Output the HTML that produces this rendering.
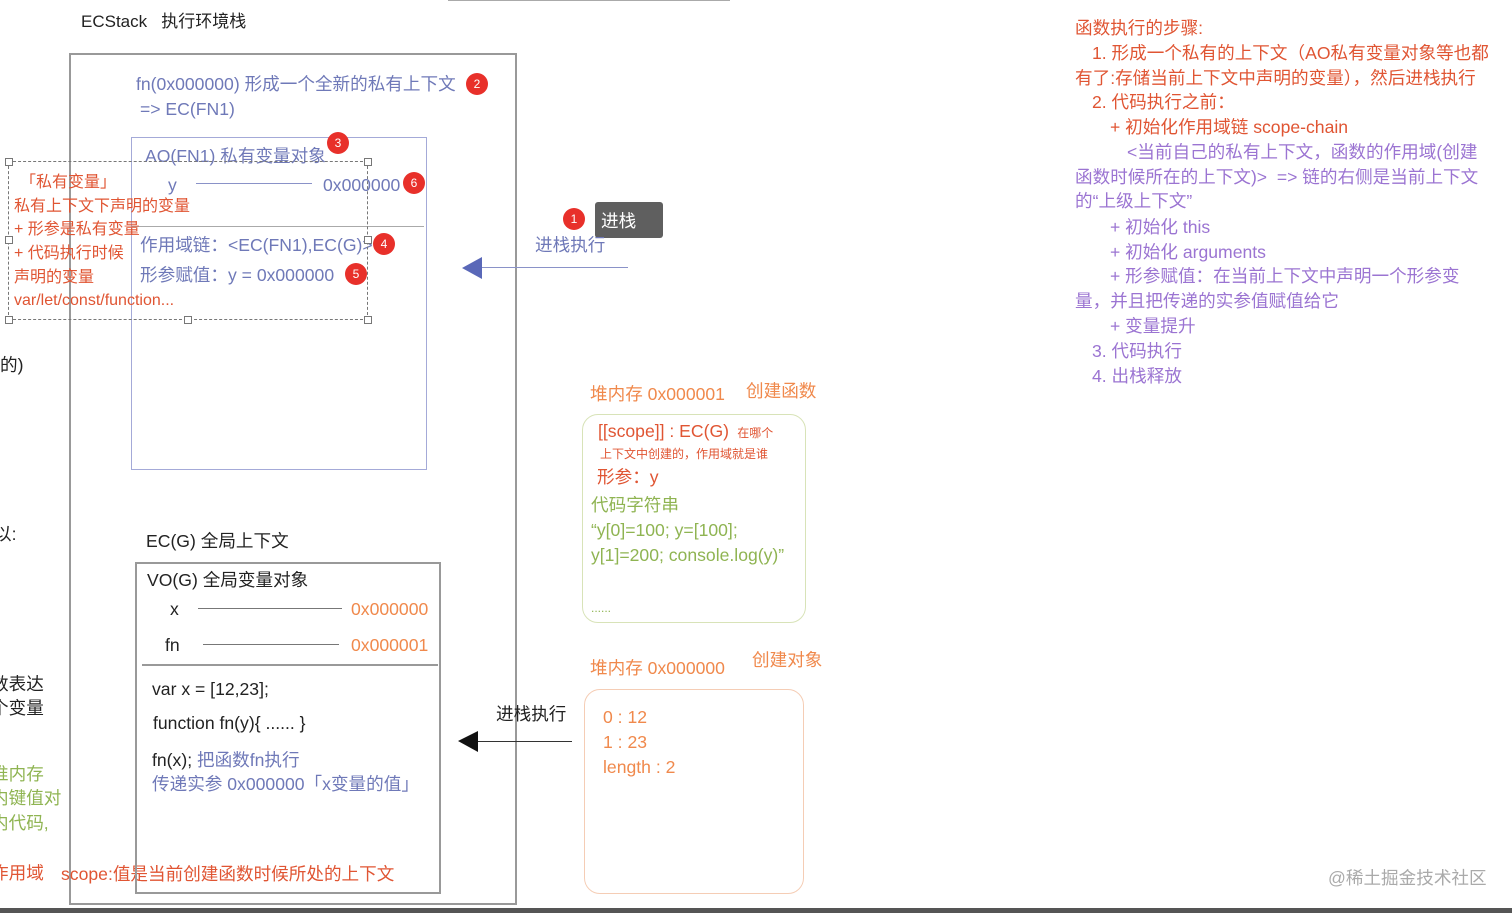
<!DOCTYPE html>
<html><head><meta charset="utf-8"><style>
body{margin:0;width:1512px;height:913px;background:#fff;position:relative;overflow:hidden;font-family:"Liberation Sans","Noto Sans CJK SC",sans-serif;}
.t{position:absolute;white-space:nowrap;font-size:17.6px;line-height:20px;}
.b{position:absolute;box-sizing:border-box;}
.red{color:#e05533}.blue{color:#6f79b8}.gr{color:#8fb452}.or{color:#f0894c}.pu{color:#9b74d2}.k{color:#222}
.dot{position:absolute;width:22px;height:22px;border-radius:50%;background:#e8302a;color:#fff;font-size:12px;line-height:22px;text-align:center;}
.h{position:absolute;height:1px;background:#888;}
.hb{position:absolute;height:1px;background:#8a92c8;}
.sq{position:absolute;width:6px;height:6px;border:1px solid #777;background:#fff;}
</style></head><body>
<div class="h" style="left:448px;top:0;width:282px;background:#aaa"></div>
<div class="t k" style="left:81px;top:12px;font-size:17px">ECStack&nbsp;&nbsp;&nbsp;执行环境栈</div>
<div class="b" style="left:69px;top:53px;width:448px;height:852px;border:2px solid #999"></div>
<div class="t blue" style="left:136px;top:74px">fn(0x000000) 形成一个全新的私有上下文</div>
<div class="dot" style="left:466px;top:73px">2</div>
<div class="t blue" style="left:140px;top:99px">=&gt; EC(FN1)</div>
<div class="b" style="left:131px;top:137px;width:296px;height:333px;border:1px solid #a4aad8"></div>
<div class="t blue" style="left:145px;top:146px">AO(FN1) 私有变量对象</div>
<div class="dot" style="left:327px;top:132px">3</div>
<div class="t blue" style="left:168px;top:175px">y</div>
<div class="hb" style="left:196px;top:183px;width:116px"></div>
<div class="t blue" style="left:323px;top:175px">0x000000</div>
<div class="dot" style="left:403px;top:172px">6</div>
<div class="hb" style="left:132px;top:226px;width:292px;background:#aaa"></div>
<div class="t blue" style="left:140px;top:235px">作用域链：&lt;EC(FN1),EC(G)&gt;</div>
<div class="dot" style="left:373px;top:233px">4</div>
<div class="t blue" style="left:140px;top:265px">形参赋值：y = 0x000000</div>
<div class="dot" style="left:345px;top:263px">5</div>
<div class="b" style="left:8px;top:161px;width:360px;height:159px;border:1.5px dashed #777"></div>
<div class="sq" style="left:5px;top:158px"></div><div class="sq" style="left:364px;top:158px"></div>
<div class="sq" style="left:5px;top:236px"></div><div class="sq" style="left:364px;top:236px"></div>
<div class="sq" style="left:5px;top:316px"></div><div class="sq" style="left:184px;top:316px"></div><div class="sq" style="left:364px;top:316px"></div>
<div class="t red" style="left:20px;top:173px;font-size:16px">「私有变量」</div>
<div class="t red" style="left:14px;top:197px;font-size:16px">私有上下文下声明的变量</div>
<div class="t red" style="left:14px;top:220px;font-size:16px">+ 形参是私有变量</div>
<div class="t red" style="left:14px;top:244px;font-size:16px">+ 代码执行时候</div>
<div class="t red" style="left:14px;top:268px;font-size:16px">声明的变量</div>
<div class="t red" style="left:14px;top:291px;font-size:16px">var/let/const/function...</div>
<div class="t k" style="left:0;top:355px">的)</div>
<div class="t k" style="left:-6px;top:524px">以:</div>
<div class="t k" style="left:-9px;top:674px">数表达</div>
<div class="t k" style="left:-9px;top:698px">个变量</div>
<div class="t gr" style="left:-9px;top:764px">推内存</div>
<div class="t gr" style="left:-9px;top:788px">内键值对</div>
<div class="t gr" style="left:-9px;top:813px">内代码,</div>
<div class="t red" style="left:-9px;top:863px">作用域</div>
<div class="t red" style="left:61px;top:864px">scope:值是当前创建函数时候所处的上下文</div>
<div class="dot" style="left:563px;top:208px">1</div>
<div class="b" style="left:595px;top:202px;width:68px;height:36px;background:#5f5f5f;border-radius:3px"></div>
<div class="t" style="left:601px;top:211px;color:#fff">进栈</div>
<div class="t blue" style="left:535px;top:235px">进栈执行</div>
<div class="hb" style="left:480px;top:267px;width:148px"></div>
<svg style="position:absolute;left:462px;top:256px" width="22" height="24"><polygon points="0,12 20,1 20,23" fill="#5a68b8"/></svg>
<div class="t k" style="left:146px;top:531px">EC(G) 全局上下文</div>
<div class="b" style="left:135px;top:562px;width:306px;height:332px;border:2px solid #999"></div>
<div class="t k" style="left:147px;top:570px">VO(G) 全局变量对象</div>
<div class="t k" style="left:170px;top:599px">x</div>
<div class="h" style="left:198px;top:608px;width:144px;background:#777"></div>
<div class="t or" style="left:351px;top:599px">0x000000</div>
<div class="t k" style="left:165px;top:635px">fn</div>
<div class="h" style="left:203px;top:644px;width:136px;background:#777"></div>
<div class="t or" style="left:351px;top:635px">0x000001</div>
<div class="h" style="left:142px;top:664px;width:296px;height:2px;background:#999"></div>
<div class="t k" style="left:152px;top:679px">var x = [12,23];</div>
<div class="t k" style="left:153px;top:713px">function fn(y){ ...... }</div>
<div class="t k" style="left:152px;top:750px">fn(x); <span class="blue">把函数fn执行</span></div>
<div class="t blue" style="left:152px;top:774px">传递实参 0x000000「x变量的值」</div>
<div class="t k" style="left:496px;top:704px">进栈执行</div>
<div class="h" style="left:476px;top:741px;width:96px;background:#333"></div>
<svg style="position:absolute;left:458px;top:730px" width="22" height="24"><polygon points="0,11 20,1 20,22" fill="#111"/></svg>
<div class="t or" style="left:590px;top:384px">堆内存 0x000001</div>
<div class="t or" style="left:746px;top:381px">创建函数</div>
<div class="b" style="left:582px;top:414px;width:224px;height:209px;border:1.5px solid #d8e3b8;border-radius:16px"></div>
<div class="t red" style="left:598px;top:421px">[[scope]] : EC(G) <span style="font-size:12px">&nbsp;在哪个</span></div>
<div class="t red" style="left:600px;top:444px;font-size:12px">上下文中创建的，作用域就是谁</div>
<div class="t red" style="left:597px;top:467px">形参：y</div>
<div class="t gr" style="left:591px;top:495px">代码字符串</div>
<div class="t gr" style="left:591px;top:520px">“y[0]=100; y=[100];</div>
<div class="t gr" style="left:591px;top:545px">y[1]=200; console.log(y)”</div>
<div class="t gr" style="left:591px;top:598px;font-size:12px">......</div>
<div class="t or" style="left:590px;top:658px">堆内存 0x000000</div>
<div class="t or" style="left:752px;top:650px">创建对象</div>
<div class="b" style="left:584px;top:689px;width:220px;height:205px;border:1.5px solid #f5cdb5;border-radius:16px"></div>
<div class="t or" style="left:603px;top:707px">0 : 12</div>
<div class="t or" style="left:603px;top:732px">1 : 23</div>
<div class="t or" style="left:603px;top:757px">length : 2</div>
<div class="t red" style="left:1075px;top:18px">函数执行的步骤:</div>
<div class="t red" style="left:1092px;top:43px">1. 形成一个私有的上下文（AO私有变量对象等也都</div>
<div class="t red" style="left:1075px;top:68px">有了:存储当前上下文中声明的变量），然后进栈执行</div>
<div class="t red" style="left:1092px;top:92px">2. 代码执行之前：</div>
<div class="t red" style="left:1110px;top:117px">+ 初始化作用域链 scope-chain</div>
<div class="t pu" style="left:1127px;top:142px">&lt;当前自己的私有上下文，函数的作用域(创建</div>
<div class="t pu" style="left:1075px;top:167px">函数时候所在的上下文)&gt;&nbsp; =&gt; 链的右侧是当前上下文</div>
<div class="t pu" style="left:1075px;top:191px">的“上级上下文”</div>
<div class="t pu" style="left:1110px;top:217px">+ 初始化 this</div>
<div class="t pu" style="left:1110px;top:242px">+ 初始化 arguments</div>
<div class="t pu" style="left:1110px;top:266px">+ 形参赋值：在当前上下文中声明一个形参变</div>
<div class="t pu" style="left:1075px;top:291px">量，并且把传递的实参值赋值给它</div>
<div class="t pu" style="left:1110px;top:316px">+ 变量提升</div>
<div class="t pu" style="left:1092px;top:341px">3. 代码执行</div>
<div class="t pu" style="left:1092px;top:366px">4. 出栈释放</div>
<div class="t" style="left:1328px;top:868px;color:#aaa;font-size:17.6px">@稀土掘金技术社区</div>
<div class="b" style="left:0;top:908px;width:1512px;height:5px;background:#555"></div>
</body></html>
